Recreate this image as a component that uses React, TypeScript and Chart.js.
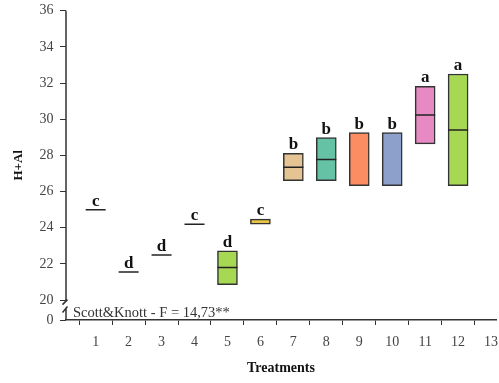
import { useEffect, useRef } from "react";
import { Chart, registerables } from "chart.js";
Chart.register(...registerables);

const treatments = [1, 2, 3, 4, 5, 6, 7, 8, 9, 10, 11, 12];
const lowerValues = [25.0, 21.55, 22.5, 24.2, 20.85, 24.2, 26.6, 26.6, 26.33, 26.33, 28.64, 26.33];
const upperValues = [25.0, 21.55, 22.5, 24.2, 22.72, 24.48, 28.12, 28.98, 29.26, 29.26, 31.82, 32.5];
const medianValues: (number | null)[] = [25.0, 21.55, 22.5, 24.2, 21.8, null, 27.35, 27.77, null, null, 30.24, 29.41];
const groupLetters = ["c", "d", "d", "c", "d", "c", "b", "b", "b", "b", "a", "a"];
const boxColors = ["#66c2a5", "#fc8d62", "#8da0cb", "#e78ac3", "#a6d854", "#e8c547", "#e5c494", "#66c2a5", "#fc8d62", "#8da0cb", "#e78ac3", "#a6d854"];
const yTickValues = [20, 22, 24, 26, 28, 30, 32, 34, 36];
const yBreakValue = 18.9; // position of the broken-axis "0"
const yBreakLabel = "0";
const xTickValues = [1, 2, 3, 4, 5, 6, 7, 8, 9, 10, 11, 12, 13];
const annotationText = "Scott&Knott - F = 14,73**";

const SERIF = "'Liberation Serif', 'Times New Roman', serif";

const overlayPlugin = {
  id: "overlay",
  afterDraw(chart: any) {
    const { ctx, chartArea, scales } = chart;
    const xs = scales.x;
    const ys = scales.y;
    ctx.save();
    // group letters above each treatment
    ctx.fillStyle = "#111";
    ctx.font = `bold 17px ${SERIF}`;
    ctx.textAlign = "center";
    ctx.textBaseline = "alphabetic";
    treatments.forEach((t, i) => {
      const px = xs.getPixelForValue(t);
      const py = ys.getPixelForValue(upperValues[i]);
      ctx.fillText(groupLetters[i], px, py - 4);
    });
    // annotation
    ctx.font = `14.5px ${SERIF}`;
    ctx.fillStyle = "#333";
    ctx.textAlign = "left";
    ctx.fillText(annotationText, chartArea.left + 7, chartArea.bottom - 3.5);
    // broken y axis
    const x0 = chartArea.left;
    const yBreakTop = ys.getPixelForValue(20) + 0.5;
    ctx.strokeStyle = "#333";
    ctx.lineWidth = 1.5;
    ctx.beginPath();
    ctx.moveTo(x0, chartArea.top);
    ctx.lineTo(x0, yBreakTop);
    ctx.moveTo(x0 - 3.5, yBreakTop + 4);
    ctx.lineTo(x0 + 1.5, yBreakTop - 1);
    ctx.moveTo(x0 - 3.5, yBreakTop + 12);
    ctx.lineTo(x0 + 1.5, yBreakTop + 6);
    ctx.moveTo(x0, yBreakTop + 7);
    ctx.lineTo(x0, chartArea.bottom);
    ctx.stroke();
    ctx.restore();
  },
};

export default function App() {
  const ref = useRef<HTMLCanvasElement>(null);
  useEffect(() => {
    if (!ref.current) return;
    const chart = new Chart(ref.current, {
      type: "bar",
      data: {
        datasets: [
          {
            type: "bar",
            order: 2,
            data: treatments.map((t, i) => ({ x: t, y: [lowerValues[i], upperValues[i]] })) as any,
            backgroundColor: boxColors,
            borderColor: "#333",
            borderWidth: 1.5,
            borderSkipped: false,
            barThickness: 20,
          } as any,
          {
            type: "scatter",
            order: 1,
            data: treatments.map((t, i) => ({ x: t, y: medianValues[i] })) as any,
            pointStyle: "line",
            pointRadius: 10,
            pointHoverRadius: 10,
            borderColor: "#222",
            backgroundColor: "#222",
            borderWidth: 1.5,
            showLine: false,
          } as any,
        ],
      },
      options: {
        animation: false,
        responsive: false,
        layout: { autoPadding: false, padding: { left: 0, top: 10.7, right: 3, bottom: 6 } },
        plugins: { legend: { display: false }, tooltip: { enabled: false } },
        scales: {
          x: {
            type: "linear",
            offset: false,
            min: 0.1,
            max: 13.15,
            afterBuildTicks: (s: any) => {
              s.ticks = xTickValues.map((v) => ({ value: v }));
            },
            afterFit: (s: any) => {
              s.height = 57;
              s.paddingLeft = 0;
              s.paddingRight = 0;
            },
            ticks: {
              padding: 9,
              color: "#444",
              font: { family: SERIF, size: 14 },
              callback: (v: any) => String(v),
            },
            grid: { display: true, drawOnChartArea: false, tickLength: 5, color: "#333", lineWidth: 1 },
            border: { display: true, color: "#333", width: 1.5 },
            title: {
              display: true,
              text: "Treatments",
              color: "#111",
              font: { family: SERIF, size: 14, weight: "bold" },
              padding: { top: 2, bottom: 0 },
            },
          },
          y: {
            type: "linear",
            min: yBreakValue,
            max: 36,
            afterBuildTicks: (s: any) => {
              s.ticks = [yBreakValue, ...yTickValues].map((v) => ({ value: v }));
            },
            afterFit: (s: any) => {
              s.width = 66;
              s.paddingTop = 0;
              s.paddingBottom = 0;
            },
            ticks: {
              padding: 6.5,
              color: "#444",
              font: { family: SERIF, size: 14 },
              callback: (v: any) => (v < 19.5 ? yBreakLabel : String(v)),
            },
            grid: { display: true, drawOnChartArea: false, tickLength: 6, color: "#333", lineWidth: 1 },
            border: { display: false },
            title: {
              display: true,
              text: "H+Al",
              color: "#111",
              font: { family: SERIF, size: 13, weight: "bold" },
              padding: { top: 11, bottom: 0 },
            },
          },
        },
      },
      plugins: [overlayPlugin],
    });
    return () => chart.destroy();
  }, []);
  return (
    <div style={{ position: "fixed", left: 0, top: 0, width: 499, height: 383, background: "#fff" }}>
      <canvas ref={ref} width={499} height={383} style={{ width: 499, height: 383 }} />
    </div>
  );
}
